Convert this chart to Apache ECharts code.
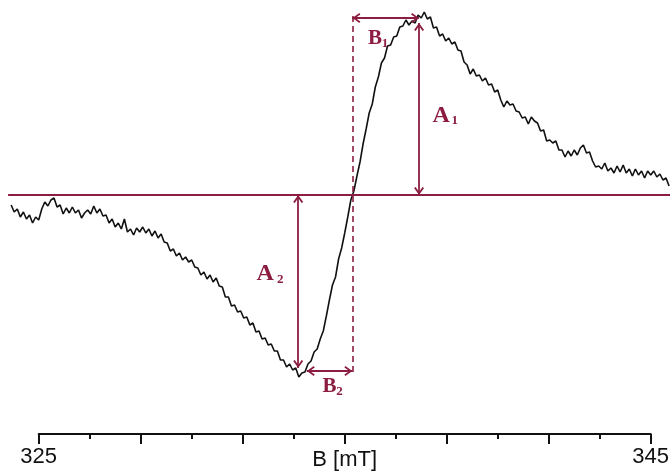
<!DOCTYPE html>
<html><head><meta charset="utf-8">
<script src="https://cdn.jsdelivr.net/npm/echarts@6/dist/echarts.min.js"></script>
<style>html,body{margin:0;padding:0;background:#fff}#c{width:670px;height:475px}</style>
</head><body><div id="c"></div>
<script>
// Magnetic field sweep (mT)
const field = [
324.1,324.2,324.3,324.4,324.5,324.6,324.7,324.8,324.9,
325.0,325.1,325.2,325.3,325.4,325.5,325.6,325.7,325.8,325.9,
326.0,326.1,326.2,326.3,326.4,326.5,326.6,326.7,326.8,326.9,
327.0,327.1,327.2,327.3,327.4,327.5,327.6,327.7,327.8,327.9,
328.0,328.1,328.2,328.3,328.4,328.5,328.6,328.7,328.8,328.9,
329.0,329.1,329.2,329.3,329.4,329.5,329.6,329.7,329.8,329.9,
330.0,330.1,330.2,330.3,330.4,330.5,330.6,330.7,330.8,330.9,
331.0,331.1,331.2,331.3,331.4,331.5,331.6,331.7,331.8,331.9,
332.0,332.1,332.2,332.3,332.4,332.5,332.6,332.7,332.8,332.9,
333.0,333.1,333.2,333.3,333.4,333.5,333.6,333.7,333.8,333.9,
334.0,334.1,334.2,334.3,334.4,334.5,334.6,334.7,334.8,334.9,
335.0,335.1,335.2,335.3,335.4,335.5,335.6,335.7,335.8,335.9,
336.0,336.1,336.2,336.3,336.4,336.5,336.6,336.7,336.8,336.9,
337.0,337.1,337.2,337.3,337.4,337.5,337.6,337.7,337.8,337.9,
338.0,338.1,338.2,338.3,338.4,338.5,338.6,338.7,338.8,338.9,
339.0,339.1,339.2,339.3,339.4,339.5,339.6,339.7,339.8,339.9,
340.0,340.1,340.2,340.3,340.4,340.5,340.6,340.7,340.8,340.9,
341.0,341.1,341.2,341.3,341.4,341.5,341.6,341.7,341.8,341.9,
342.0,342.1,342.2,342.3,342.4,342.5,342.6,342.7,342.8,342.9,
343.0,343.1,343.2,343.3,343.4,343.5,343.6,343.7,343.8,343.9,
344.0,344.1,344.2,344.3,344.4,344.5,344.6,344.7,344.8,344.9,
345.0,345.1,345.2,345.3,345.4,345.5,345.6
];
// EPR derivative signal (arbitrary units, baseline = 0)
const intensity = [
-10,-17,-14,-22,-17,-24,-20,-28,-22,-25,
-14,-7,-11,-5,-3,-12,-10,-19,-13,-18,
-12,-18,-15,-23,-18,-15,-19,-11,-18,-14,
-21,-20,-28,-24,-32,-28,-34,-24,-37,-34,
-40,-33,-37,-32,-38,-34,-41,-36,-43,-39,
-47,-48,-56,-54,-61,-58,-65,-62,-67,-65,
-72,-73,-80,-77,-84,-80,-87,-83,-91,-92,
-102,-102,-111,-110,-117,-116,-123,-122,-130,-128,
-137,-136,-144,-143,-150,-149,-156,-156,-165,-165,
-172,-169,-175,-173,-182,-178,-177,-169,-166,-157,
-154,-144,-136,-121,-105,-90,-82,-64,-53,-38,
-22,-5,4,19,33,51,66,82,91,108,
118,132,137,149,150,158,159,168,169,175,
170,174,172,180,177,183,176,178,167,168,
159,161,154,157,151,153,145,144,133,130,
121,126,119,120,114,117,110,111,103,105,
95,88,94,90,91,84,83,77,78,71,
78,74,72,64,65,54,55,52,54,45,
45,38,44,39,45,40,47,50,42,43,
34,28,29,26,32,24,27,22,29,23,
30,22,26,19,26,20,24,17,24,20,
24,18,21,15,17,9
];
const tickLabels = [325, 345];
const axisTitle = 'B [mT]';

// Annotation values (field in mT, signal in a.u.)
const baselineField = [324.0, 345.63];
const zeroCrossField = 335.25;
const peakField = 337.43;
const troughField = 333.48;
const peakArrowTop = 172;
const troughArrowBottom = -173;
const b1Level = 177;
const b2Level = -176;
const b2StartField = 333.76;
const dashedRange = [179, -177];
const labelTexts = ['A','1','A','2','B','1','B','2'];
const labelField = [338.15,338.60,332.40,332.89,335.99,336.32,334.50,334.83];
const labelValue = [79,74,-79,-85,156.5,151,-191.5,-197];
const labelIsSub = [false,true,false,true,false,true,false,true];
const labelIsA = [true,true,true,true,false,false,false,false];

const maroon = '#8c1d40';
const chevron = 'path://M5,0 L5,0 M5,8 L0,15 L1.6,16 L5,11 L8.4,16 L10,15 Z';

const chart = echarts.init(document.getElementById('c'), null, {renderer: 'canvas'});

function arrow(x1, y1, x2, y2) {
  return [
    {coord: [x1, y1], symbol: chevron, symbolSize: [10, 16]},
    {coord: [x2, y2], symbol: chevron, symbolSize: [10, 16]}
  ];
}

const markLines = [
  [{coord: [baselineField[0], 0], symbol: 'none'}, {coord: [baselineField[1], 0], symbol: 'none'}],
  [{coord: [zeroCrossField, dashedRange[0]], symbol: 'none', lineStyle: {type: [6, 4], width: 1.6, color: maroon}},
   {coord: [zeroCrossField, dashedRange[1]], symbol: 'none'}],
  arrow(peakField, 0, peakField, peakArrowTop),
  arrow(troughField, 0, troughField, troughArrowBottom),
  arrow(zeroCrossField, b1Level, peakField, b1Level),
  arrow(b2StartField, b2Level, zeroCrossField, b2Level)
];

const markPoints = labelTexts.map((t, i) => ({
  coord: [labelField[i], labelValue[i]],
  symbol: 'circle',
  symbolSize: 1,
  itemStyle: {color: 'rgba(0,0,0,0)'},
  label: {
    show: true,
    position: 'inside',
    formatter: t,
    color: maroon,
    fontFamily: 'Liberation Serif',
    fontWeight: 'bold',
    fontSize: labelIsSub[i] ? 13 : (labelIsA[i] ? 24 : 21)
  }
}));

chart.setOption({
  animation: false,
  backgroundColor: '#ffffff',
  grid: [
    // data area: spans the full trace, same mT-per-pixel scale as the visible axis
    {left: 8.1, right: 0, top: 0, bottom: 41, outerBoundsMode: 'none', containLabel: false},
    // visible field axis from 325 to 345 mT
    {left: 38.7, right: 19.3, top: 0, bottom: 41, outerBoundsMode: 'none', containLabel: false}
  ],
  xAxis: [{
    gridIndex: 0, type: 'value', min: baselineField[0], max: baselineField[1], show: false
  }, {
    gridIndex: 1, type: 'value', min: 325, max: 345, interval: 5 / 3,
    position: 'bottom',
    name: axisTitle, nameLocation: 'middle', nameGap: 15, nameMoveOverlap: false,
    nameTextStyle: {fontFamily: 'Liberation Sans', fontSize: 22, color: '#111', verticalAlign: 'top'},
    axisLine: {show: true, onZero: false, lineStyle: {color: '#111', width: 2}},
    axisTick: {show: true, inside: false, length: 5, lineStyle: {color: '#111', width: 2}},
    splitLine: {show: false},
    axisLabel: {
      show: true, margin: 12, color: '#111', fontFamily: 'Liberation Sans', fontSize: 22,
      showMinLabel: true, showMaxLabel: true,
      formatter: v => {
        for (const t of tickLabels) { if (Math.abs(v - t) < 0.01) return String(t); }
        return '';
      }
    }
  }, {
    gridIndex: 1, type: 'value', min: 0, max: 20, interval: 10 / 3,
    position: 'bottom',
    axisLine: {show: false, onZero: false},
    axisTick: {show: true, inside: false, length: 10, lineStyle: {color: '#111', width: 2}},
    axisLabel: {show: false},
    splitLine: {show: false}
  }],
  yAxis: [
    {gridIndex: 0, type: 'value', min: -239, max: 195, show: false, splitLine: {show: false}},
    {gridIndex: 1, type: 'value', min: -239, max: 195, show: false, splitLine: {show: false}}
  ],
  series: [{
    type: 'line',
    xAxisIndex: 0,
    yAxisIndex: 0,
    data: field.map((b, i) => [b, intensity[i]]),
    showSymbol: false,
    symbol: 'none',
    clip: false,
    lineStyle: {color: '#111', width: 1.6},
    z: 3,
    markLine: {
      silent: true,
      animation: false,
      label: {show: false},
      lineStyle: {color: maroon, width: 1.8, type: 'solid'},
      data: markLines
    },
    markPoint: {
      silent: true,
      animation: false,
      data: markPoints
    }
  }]
});
</script>
</body></html>
